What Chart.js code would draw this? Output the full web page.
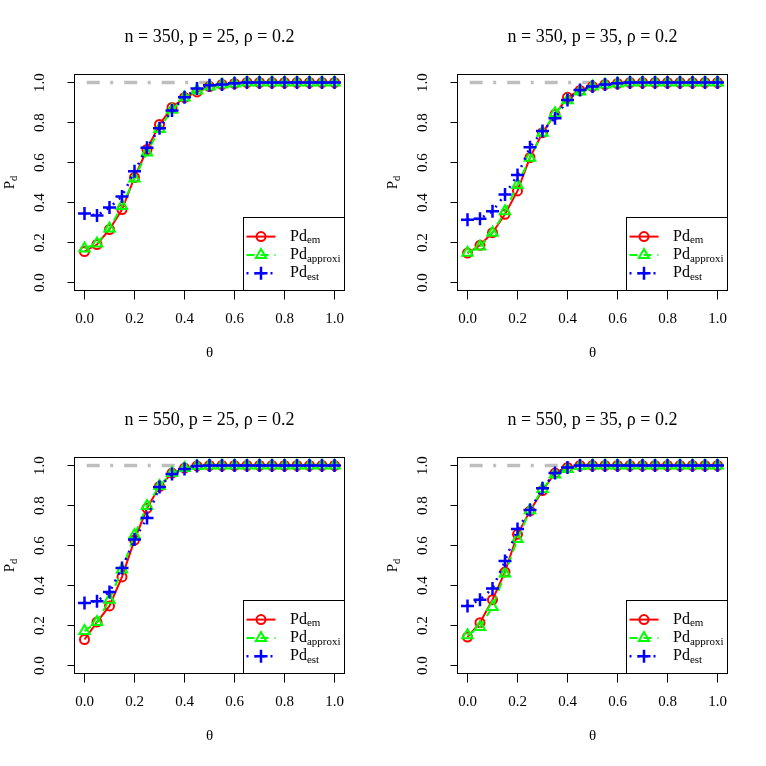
<!DOCTYPE html>
<html>
<head>
<meta charset="utf-8">
<script src="https://cdn.jsdelivr.net/npm/chart.js@4.4.1/dist/chart.umd.min.js"></script>
<style>
  html, body { margin: 0; padding: 0; background: #fff; }
  #wrap { position: relative; width: 766px; height: 766px; }
  .panel { position: absolute; width: 383px; height: 383px; }
</style>
</head>
<body>
<div id="wrap">
  <div class="panel" style="left:0;top:0"><canvas id="c0" width="383" height="383"></canvas></div>
  <div class="panel" style="left:383px;top:0"><canvas id="c1" width="383" height="383"></canvas></div>
  <div class="panel" style="left:0;top:383px"><canvas id="c2" width="383" height="383"></canvas></div>
  <div class="panel" style="left:383px;top:383px"><canvas id="c3" width="383" height="383"></canvas></div>
</div>
<script>
const theta = [0, 0.05, 0.1, 0.15, 0.2, 0.25, 0.3, 0.35, 0.4, 0.45, 0.5,
  0.55, 0.6, 0.65, 0.7, 0.75, 0.8, 0.85, 0.9, 0.95, 1];

const panelTitles = [
  "n = 350, p = 25, ρ = 0.2",
  "n = 350, p = 35, ρ = 0.2",
  "n = 550, p = 25, ρ = 0.2",
  "n = 550, p = 35, ρ = 0.2",
];

const xTicks = [0, 0.2, 0.4, 0.6, 0.8, 1];
const yTicks = [0, 0.2, 0.4, 0.6, 0.8, 1];

const legendMain = "Pd";
const legendSubs = ["em", "approxi", "est"];

const reference = [1, 1, 1, 1, 1, 1, 1, 1, 1, 1, 1, 1, 1, 1, 1, 1, 1, 1, 1, 1, 1];

// n = 350, p = 25
const em_350_25 = [0.155, 0.19, 0.265, 0.365, 0.525, 0.665, 0.79, 0.875, 0.925, 0.953, 0.98,
  0.99, 0.995, 1, 1, 1, 1, 1, 1, 1, 1];
const approxi_350_25 = [0.17, 0.195, 0.27, 0.383, 0.52, 0.65, 0.768, 0.864, 0.925, 0.96, 0.98,
  0.99, 0.995, 1, 1, 1, 1, 1, 1, 1, 1];
const est_350_25 = [0.345, 0.335, 0.375, 0.43, 0.556, 0.674, 0.771, 0.86, 0.926, 0.97, 0.986,
  0.99, 0.996, 1, 1, 1, 1, 1, 1, 1, 1];

// n = 350, p = 35
const em_350_35 = [0.147, 0.186, 0.249, 0.341, 0.458, 0.625, 0.749, 0.841, 0.926, 0.96, 0.98,
  0.99, 0.995, 1, 1, 1, 1, 1, 1, 1, 1];
const approxi_350_35 = [0.149, 0.18, 0.249, 0.356, 0.487, 0.624, 0.749, 0.846, 0.911, 0.955, 0.98,
  0.99, 0.995, 1, 1, 1, 1, 1, 1, 1, 1];
const est_350_35 = [0.314, 0.319, 0.356, 0.44, 0.537, 0.676, 0.758, 0.821, 0.913, 0.963, 0.98,
  0.99, 0.996, 1, 1, 1, 1, 1, 1, 1, 1];

// n = 550, p = 25
const em_550_25 = [0.13, 0.217, 0.298, 0.443, 0.627, 0.786, 0.895, 0.962, 0.987, 0.998, 1,
  1, 1, 1, 1, 1, 1, 1, 1, 1, 1];
const approxi_550_25 = [0.172, 0.217, 0.329, 0.48, 0.652, 0.797, 0.898, 0.962, 0.987, 0.998, 1,
  1, 1, 1, 1, 1, 1, 1, 1, 1, 1];
const est_550_25 = [0.313, 0.321, 0.368, 0.488, 0.63, 0.737, 0.893, 0.957, 0.983, 0.998, 1,
  1, 1, 1, 1, 1, 1, 1, 1, 1, 1];

// n = 550, p = 35
const em_550_35 = [0.142, 0.214, 0.329, 0.468, 0.656, 0.773, 0.875, 0.962, 0.99, 1, 1,
  1, 1, 1, 1, 1, 1, 1, 1, 1, 1];
const approxi_550_35 = [0.151, 0.192, 0.293, 0.46, 0.632, 0.776, 0.883, 0.955, 0.983, 0.998, 1,
  1, 1, 1, 1, 1, 1, 1, 1, 1, 1];
const est_550_35 = [0.298, 0.329, 0.385, 0.522, 0.682, 0.777, 0.886, 0.962, 0.99, 1, 1,
  1, 1, 1, 1, 1, 1, 1, 1, 1, 1];

const panelSeries = [
  [em_350_25, approxi_350_25, est_350_25],
  [em_350_35, approxi_350_35, est_350_35],
  [em_550_25, approxi_550_25, est_550_25],
  [em_550_35, approxi_550_35, est_550_35],
];

const serif = "'Liberation Serif', 'DejaVu Serif', serif";
Chart.defaults.font.family = serif;
Chart.defaults.color = "#000";

const toPoints = (values) => theta.map((t, i) => ({ x: t, y: values[i] }));

const seriesStyles = [
  { color: "#ff0000", dash: [], pointStyle: "circle", radius: 4.5, width: 2, order: 3 },
  { color: "#00ff00", dash: [8, 6], pointStyle: "triangle", radius: 6, width: 2, order: 2 },
  { color: "#0000ff", dash: [2, 6], pointStyle: "cross", radius: 6.5, width: 2.5, order: 1 },
];

// box around the plot region, like R's box()
const plotBox = {
  id: "plotBox",
  afterDatasetsDraw(chart) {
    const { ctx, chartArea: a } = chart;
    ctx.save();
    ctx.strokeStyle = "#000";
    ctx.lineWidth = 1;
    ctx.strokeRect(a.left, a.top, a.right - a.left, a.bottom - a.top);
    ctx.restore();
  },
};

const drawMarker = (ctx, style, x, y) => {
  ctx.strokeStyle = style.color;
  ctx.fillStyle = "rgba(0,0,0,0)";
  ctx.lineWidth = style.width;
  ctx.setLineDash([]);
  Chart.helpers.drawPoint(ctx, { pointStyle: style.pointStyle, radius: style.radius, rotation: 0, borderWidth: style.width }, x, y);
};

// legend in the bottom right corner with subscripted labels
const rLegend = {
  id: "rLegend",
  afterDraw(chart, args, opts) {
    const { ctx, chartArea: a } = chart;
    const x0 = a.right - opts.width;
    const y0 = a.bottom - opts.height;
    ctx.save();
    ctx.fillStyle = "#fff";
    ctx.fillRect(x0, y0, opts.width, opts.height);
    ctx.strokeStyle = "#000";
    ctx.lineWidth = 1;
    ctx.strokeRect(Math.round(x0) + 0.5, Math.round(y0) + 0.5, a.right - Math.round(x0) - 0.5, a.bottom - Math.round(y0) - 0.5);

    legendSubs.forEach((sub, k) => {
      const st = seriesStyles[k];
      const y = y0 + opts.firstRow + k * opts.rowGap;
      ctx.strokeStyle = st.color;
      ctx.lineWidth = st.width;
      ctx.setLineDash(st.dash);
      ctx.beginPath();
      ctx.moveTo(x0 + opts.lineStart, y);
      ctx.lineTo(x0 + opts.lineEnd, y);
      ctx.stroke();
      drawMarker(ctx, st, x0 + (opts.lineStart + opts.lineEnd) / 2, y);

      ctx.fillStyle = "#000";
      ctx.textBaseline = "middle";
      ctx.textAlign = "left";
      ctx.font = "16px " + serif;
      ctx.fillText(legendMain, x0 + opts.textStart, y);
      const w = ctx.measureText(legendMain).width;
      ctx.font = "11px " + serif;
      ctx.fillText(sub, x0 + opts.textStart + w, y + 4);
    });
    ctx.restore();
  },
};

// y-axis title P with subscript d, rotated
const yTitle = {
  id: "yTitle",
  afterDraw(chart, args, opts) {
    const { ctx, chartArea: a } = chart;
    ctx.save();
    ctx.translate(opts.x, (a.top + a.bottom) / 2);
    ctx.rotate(-Math.PI / 2);
    ctx.fillStyle = "#000";
    ctx.textBaseline = "middle";
    ctx.font = "15px " + serif;
    const w1 = ctx.measureText("P").width;
    ctx.font = "10.5px " + serif;
    const w2 = ctx.measureText("d").width;
    const start = -(w1 + w2) / 2;
    ctx.font = "15px " + serif;
    ctx.textAlign = "left";
    ctx.fillText("P", start, 0);
    ctx.font = "10.5px " + serif;
    ctx.fillText("d", start + w1, 4);
    ctx.restore();
  },
};

const makeChart = (idx) => {
  const series = panelSeries[idx];
  const datasets = [
    {
      label: "reference",
      data: toPoints(reference),
      borderColor: "#bebebe",
      borderWidth: 3.5,
      borderDash: [13, 10.5, 3, 11],
      borderDashOffset: 35.3,
      borderCapStyle: "butt",
      pointRadius: 0,
      order: 4,
    },
  ];
  series.forEach((values, k) => {
    const st = seriesStyles[k];
    datasets.push({
      label: legendMain + legendSubs[k],
      data: toPoints(values),
      borderColor: st.color,
      borderWidth: st.width,
      borderDash: st.dash,
      pointStyle: st.pointStyle,
      pointRadius: st.radius,
      pointBorderColor: st.color,
      pointBorderWidth: st.width,
      pointBackgroundColor: "rgba(0,0,0,0)",
      tension: 0,
      order: st.order,
    });
  });

  return new Chart(document.getElementById("c" + idx), {
    type: "line",
    data: { datasets },
    plugins: [plotBox, rLegend, yTitle],
    options: {
      responsive: false,
      animation: false,
      events: [],
      layout: { padding: { left: 0, right: 38.5, top: 0, bottom: 0 } },
      plugins: {
        legend: { display: false },
        tooltip: { enabled: false },
        title: {
          display: true,
          fullSize: false,
          text: panelTitles[idx],
          font: { size: 18, weight: "normal", family: serif },
          padding: { top: 26, bottom: 26.9 },
          color: "#000",
        },
        rLegend: { width: 101.5, height: 73.3, firstRow: 19.4, rowGap: 18.3, lineStart: 3.5, lineEnd: 32.5, textStart: 47 },
        yTitle: { x: 10 },
      },
      scales: {
        x: {
          type: "linear",
          min: -0.04,
          max: 1.04,
          afterFit: (scale) => { scale.height = 92.5; },
          afterBuildTicks: (scale) => { scale.ticks = xTicks.map((v) => ({ value: v })); },
          ticks: {
            callback: (v) => v.toFixed(1),
            font: { size: 15 },
            padding: 10.5,
            maxRotation: 0,
            autoSkip: false,
            color: "#000",
          },
          grid: { drawOnChartArea: false, drawTicks: true, tickLength: 9, color: "#000" },
          border: { display: false },
          title: { display: true, text: "θ", font: { size: 15 }, padding: { top: 0, bottom: 21 }, color: "#000" },
        },
        y: {
          type: "linear",
          min: -0.04,
          max: 1.04,
          afterFit: (scale) => { scale.width = 74.5; },
          afterBuildTicks: (scale) => { scale.ticks = yTicks.map((v) => ({ value: v })); },
          ticks: {
            callback: (v) => v.toFixed(1),
            font: { size: 15 },
            padding: 18,
            minRotation: 90,
            maxRotation: 90,
            crossAlign: "center",
            autoSkip: false,
            color: "#000",
          },
          grid: { drawOnChartArea: false, drawTicks: true, tickLength: 7, color: "#000" },
          border: { display: false },
        },
      },
    },
  });
};

[0, 1, 2, 3].forEach(makeChart);
</script>
</body>
</html>
